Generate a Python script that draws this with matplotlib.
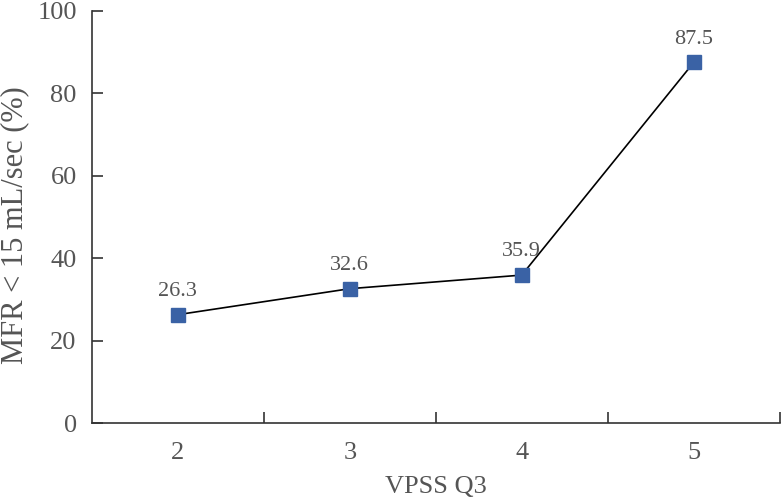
import matplotlib
matplotlib.use("Agg")
import matplotlib.pyplot as plt
from matplotlib.ticker import FixedLocator

categories = ["2", "3", "4", "5"]
values = [26.3, 32.6, 35.9, 87.5]
y_ticks = [0, 20, 40, 60, 80, 100]

plt.rcParams['font.family'] = ['Liberation Serif', 'DejaVu Serif']
grey = "#555555"

fig = plt.figure(figsize=(7.82, 4.99), dpi=100)
ax = fig.add_axes([0.1176, 0.1523, 0.8794, 0.8257])

x = list(range(len(categories)))
ax.plot(x, values, color="black", lw=1.2, marker="s", markersize=10,
        markerfacecolor="#3a62a5", markeredgecolor="#3a62a5", zorder=3, clip_on=False)
for xi, v in zip(x, values):
    ax.annotate(f"{v:.1f}", (xi, v), xytext=(0, 10), textcoords="offset points",
                ha="center", va="bottom", fontsize=16, color=grey)

ax.set_xlim(-0.5, len(categories) - 0.5)
ax.set_ylim(0, 100)
ax.set_yticks(y_ticks)
ax.set_xticks(x)
ax.set_xticklabels(categories)
ax.xaxis.set_minor_locator(FixedLocator([i + 0.5 for i in x]))
ax.tick_params(axis="x", which="major", length=0, pad=14, labelsize=19, labelcolor=grey)
ax.tick_params(axis="x", which="minor", direction="in", length=8, width=1.2, color="#333333")
ax.tick_params(axis="y", direction="in", length=8, width=1.2, color="#333333",
               labelsize=19, labelcolor=grey, pad=11)

for s in ["top", "right"]:
    ax.spines[s].set_visible(False)
for s in ["left", "bottom"]:
    ax.spines[s].set_linewidth(1.2)
    ax.spines[s].set_color("#333333")

ax.set_xlabel("VPSS Q3", fontsize=19, color=grey, labelpad=8)
fig.text(15 / 782, 1 - 225 / 499, "MFR < 15 mL/sec (%)", rotation=90,
         ha="center", va="center", fontsize=22, color=grey)

fig.savefig("out.png", dpi=100)
